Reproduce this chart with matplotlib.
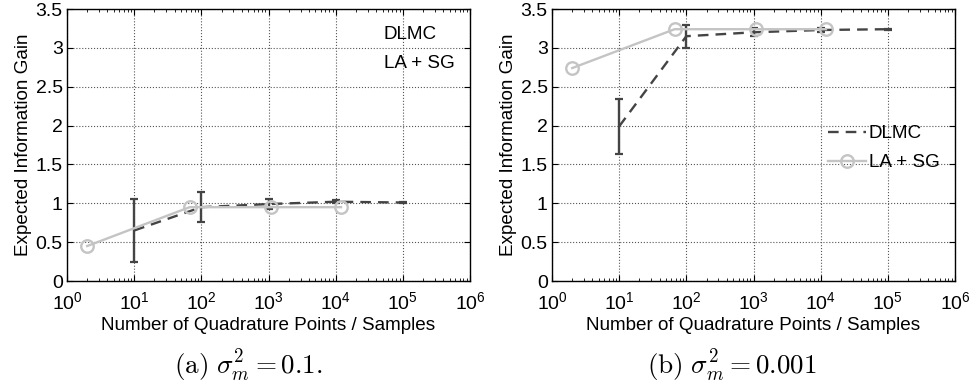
import matplotlib
matplotlib.use('Agg')
import matplotlib.pyplot as plt
from matplotlib.ticker import FormatStrFormatter, LogLocator
from matplotlib.lines import Line2D
import numpy as np

plt.rcParams['font.family'] = ['Liberation Sans', 'DejaVu Sans']
plt.rcParams['mathtext.fontset'] = 'custom'
plt.rcParams['mathtext.rm'] = 'Liberation Sans'
plt.rcParams['mathtext.it'] = 'Liberation Sans:italic'

# DLMC samples (both panels)
dlmc_n = [10, 100, 1000, 10000, 100000]
dlmc_a = [0.65, 0.95, 0.99, 1.02, 1.01]
dlmc_a_err = [0.41, 0.19, 0.06, 0.02, 0.005]
dlmc_b = [1.99, 3.15, 3.20, 3.23, 3.24]
dlmc_b_err = [0.355, 0.15, 0.05, 0.02, 0.005]

# LA + SG quadrature points
lasg_n = [2, 67, 1100, 12000]
lasg_a = [0.45, 0.95, 0.95, 0.95]
lasg_b = [2.74, 3.24, 3.24, 3.24]

xticks = [1e0, 1e1, 1e2, 1e3, 1e4, 1e5, 1e6]
yticks = [0, 0.5, 1, 1.5, 2, 2.5, 3, 3.5]
captions = [r'$\mathrm{(a)}\ \sigma_m^2 = 0.1.$', r'$\mathrm{(b)}\ \sigma_m^2 = 0.001$']

DARK = '#444444'
LIGHT = '#c4c4c4'
FS = 13.6

fig = plt.figure(figsize=(9.69, 3.88), dpi=100)
ax_a = fig.add_axes([67/969, 107/388, 403/969, 272/388])
ax_b = fig.add_axes([552/969, 107/388, 403/969, 272/388])

panels = [(ax_a, dlmc_a, dlmc_a_err, lasg_a, 0.852, False),
          (ax_b, dlmc_b, dlmc_b_err, lasg_b, 0.488, True)]

for ax, dy, de, ly, legy, show_handles in panels:
    ax.errorbar(dlmc_n, dy, yerr=de, color=DARK, lw=1.7, dashes=(4.5, 3),
                elinewidth=1.7, capsize=2.8, capthick=1.6, zorder=3)
    ax.plot(lasg_n, ly, '-o', color=LIGHT, lw=1.7, mfc='none', mec=LIGHT,
            mew=1.7, ms=9, zorder=4)
    ax.set_xscale('log')
    ax.set_xlim(1, 1e6)
    ax.set_ylim(0, 3.5)
    ax.set_xticks(xticks)
    ax.set_yticks(yticks)
    ax.yaxis.set_major_formatter(FormatStrFormatter('%g'))
    ax.xaxis.set_minor_locator(LogLocator(base=10, subs=np.arange(2, 10), numticks=20))
    ax.grid(True, which='major', ls=':', color='#555555', lw=0.8)
    ax.tick_params(which='both', direction='in', top=True, right=True, labelsize=14)
    ax.tick_params(which='major', length=4, width=0.8)
    ax.tick_params(axis='x', which='major', pad=7)
    ax.tick_params(axis='y', which='major', pad=3)
    ax.tick_params(which='minor', length=2.5, width=0.6)
    for s in ax.spines.values():
        s.set_linewidth(1.0)
    ax.set_xlabel('Number of Quadrature Points / Samples', fontsize=FS, labelpad=3)
    ax.set_ylabel('Expected Information Gain', fontsize=FS, labelpad=3)

    handles = [Line2D([], [], color=DARK, lw=1.7, dashes=(4.5, 3)),
               Line2D([], [], color=LIGHT, lw=1.7, marker='o', mfc='none',
                      mec=LIGHT, mew=1.7, ms=9)]
    leg = ax.legend(handles, ['DLMC', 'LA + SG'], loc='center left',
                    bbox_to_anchor=(0.685, legy), frameon=False,
                    fontsize=FS, handlelength=2.0, handletextpad=0.15,
                    borderpad=0, borderaxespad=0, labelspacing=0.62)
    if not show_handles:
        for h in leg.legend_handles:
            h.set_visible(False)

fig.text(248/969, 1 - 366/388, captions[0], ha='center', va='center',
         fontsize=19.5, math_fontfamily='cm')
fig.text(732/969, 1 - 366/388, captions[1], ha='center', va='center',
         fontsize=19.5, math_fontfamily='cm')

fig.savefig('out.png', dpi=100)
